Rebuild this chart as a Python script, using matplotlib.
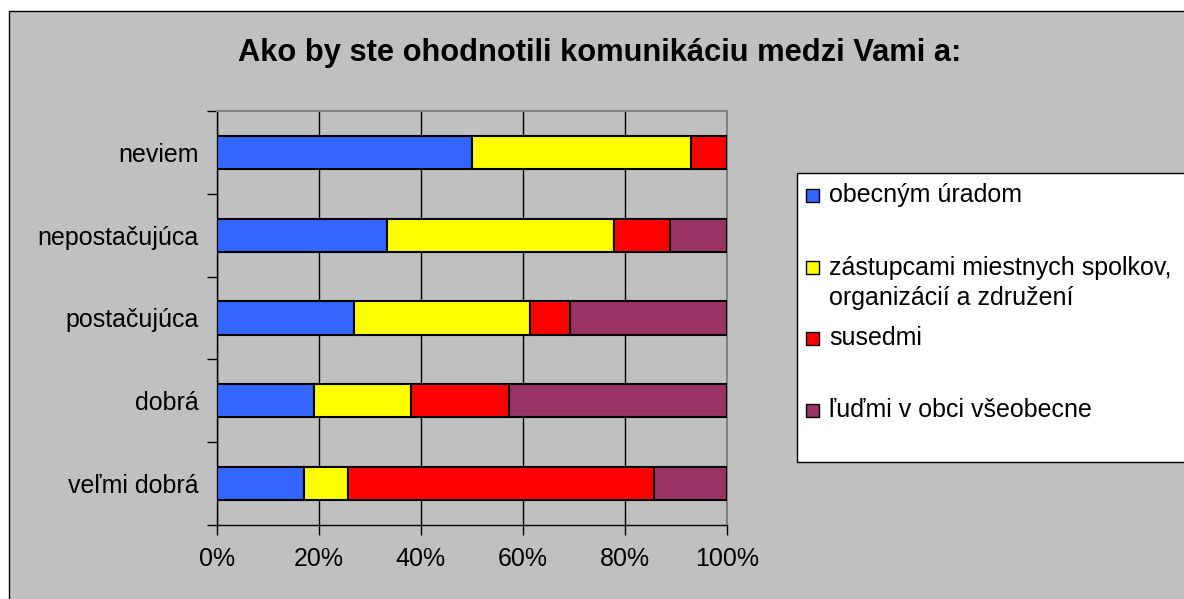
import matplotlib.pyplot as plt
from matplotlib.patches import Rectangle
from matplotlib.ticker import FuncFormatter, FixedLocator
import numpy as np

plt.rcParams['font.family'] = ['Liberation Sans', 'DejaVu Sans']

# Data (percent of answers, bottom row first)
categories = ["veľmi dobrá", "dobrá", "postačujúca", "nepostačujúca", "neviem"]
series = [
    "obecným úradom",
    "zástupcami miestnych spolkov,\norganizácií a združení",
    "susedmi",
    "ľuďmi v obci všeobecne",
]
urad = [17.1, 19.0, 26.9, 33.3, 50.0]
spolky = [8.6, 19.1, 34.6, 44.5, 42.9]
susedia = [60.0, 19.1, 7.7, 11.1, 7.1]
ludia = [14.3, 42.8, 30.8, 11.1, 0.0]
xticks = [0, 20, 40, 60, 80, 100]

colors = ["#3366FF", "#FFFF00", "#FF0000", "#993366"]
bg = "#C0C0C0"

W, H = 1184, 599
fig = plt.figure(figsize=(W / 100, H / 100), dpi=100, facecolor="white")

# outer chart area
fig.patches.append(Rectangle((9 / W, -0.02), 1.1, (H - 11) / H + 0.02,
                             transform=fig.transFigure, facecolor=bg,
                             edgecolor="black", linewidth=1, zorder=0))

ax = fig.add_axes([216.8 / W, (H - 525) / H, 510 / W, 414 / H])
ax.set_zorder(2)
ax.set_facecolor(bg)

y = np.arange(len(categories))
left = np.zeros(len(categories))
bars = []
for vals, col, lab in zip([urad, spolky, susedia, ludia], colors, series):
    b = ax.barh(y, vals, height=0.4, left=left, color=col,
                edgecolor="black", linewidth=1.5, label=lab, zorder=3)
    bars.append(b)
    left = left + np.array(vals)

ax.set_xlim(0, 100)
ax.set_ylim(-0.5, len(categories) - 0.5)
ax.set_xticks(xticks)
ax.xaxis.set_major_formatter(FuncFormatter(lambda v, p: f"{v:.0f}%"))
ax.set_yticks(y)
ax.set_yticklabels(categories)
ax.yaxis.set_minor_locator(FixedLocator(np.arange(-0.5, len(categories), 1.0)))
ax.tick_params(axis="y", which="major", length=0, pad=13, labelsize=18)
ax.tick_params(axis="y", which="minor", length=7, width=1, color="black")
ax.tick_params(axis="x", length=7, width=1, color="black", labelsize=18, pad=9)

ax.grid(axis="x", color="black", linewidth=1, zorder=1)
ax.set_axisbelow(True)
for s in ["top", "right"]:
    ax.spines[s].set_color("#808080")
    ax.spines[s].set_linewidth(1.5)
for s in ["left", "bottom"]:
    ax.spines[s].set_color("black")
    ax.spines[s].set_linewidth(1)

fig.text(600 / W, (H - 53) / H, "Ako by ste ohodnotili komunikáciu medzi Vami a:",
         ha="center", va="center", fontsize=22.2, fontweight="bold", zorder=3)

# legend box
fig.patches.append(Rectangle((797 / W, (H - 462) / H), 1.0, 289 / H,
                             transform=fig.transFigure, facecolor="white",
                             edgecolor="black", linewidth=1, zorder=1))
entry_y = [195, 268, 338, 410]
for b, lab, ey in zip(bars, series, entry_y):
    fc = b.patches[0].get_facecolor()
    fig.patches.append(Rectangle((806 / W, (H - ey - 6.5) / H), 13 / W, 13 / H,
                                 transform=fig.transFigure, facecolor=fc,
                                 edgecolor="black", linewidth=1, zorder=2))
    for i, line in enumerate(lab.split("\n")):
        fig.text(829 / W, (H - ey - 30 * i) / H, line, ha="left",
                 va="center", fontsize=18, zorder=3)

fig.savefig("out.png", dpi=100, facecolor="white")
